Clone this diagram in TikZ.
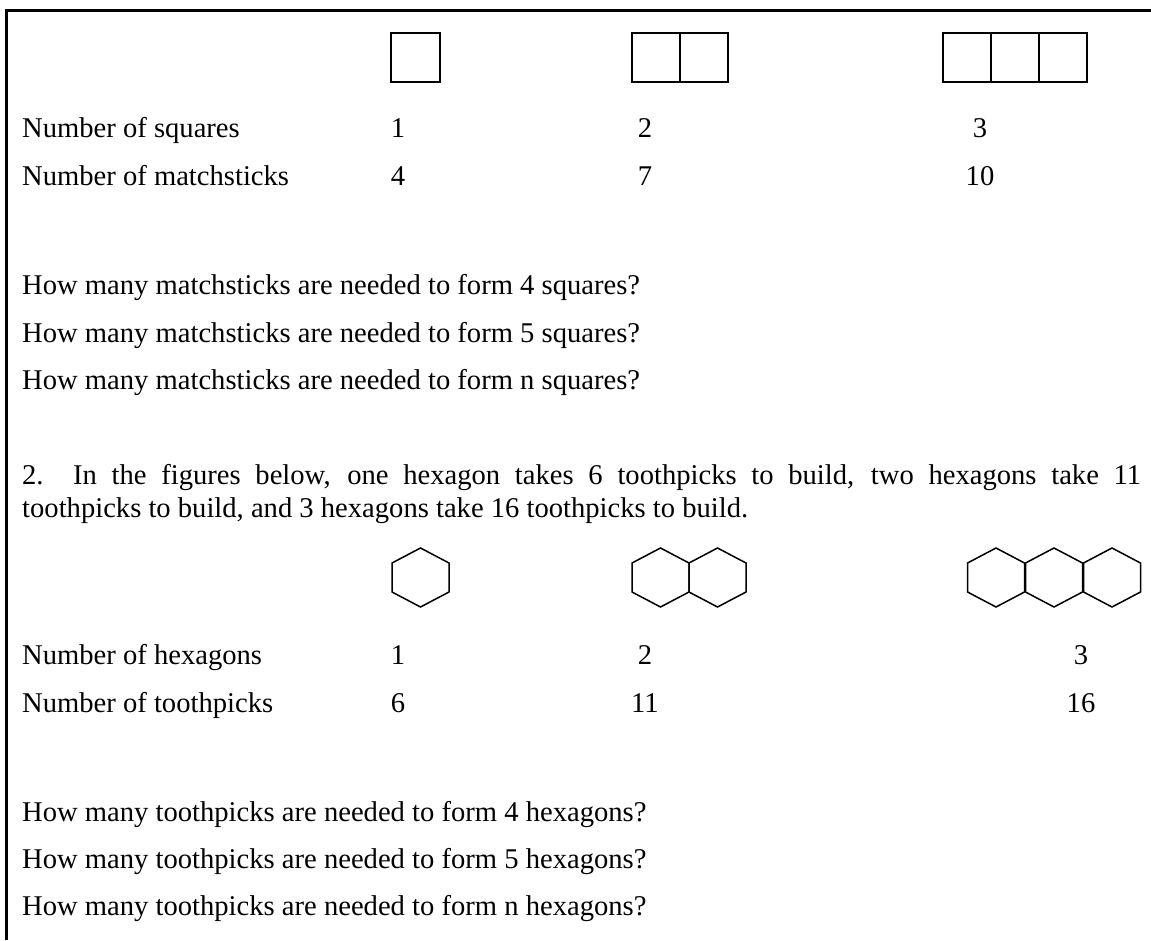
\documentclass[tikz,border=0pt]{standalone}
\usepackage{fontspec}
\setmainfont{Liberation Serif}
\usetikzlibrary{calc}

\newcommand{\hexcell}[1]{\draw[hexline] (#1-28.5,563)--(#1,548)--(#1+28.5,563)--(#1+28.5,592)--(#1,607)--(#1-28.5,592)--cycle;}

\begin{document}
\begin{tikzpicture}[x=1pt,y=-1pt,
	every node/.style={inner sep=0pt,font=\fontsize{28.6}{33}\selectfont},
	row/.style={anchor=base west},
	num/.style={anchor=base},
	stick/.style={line width=1.6pt},
	hexline/.style={line width=1.5pt,line join=miter}]
	\useasboundingbox (0,0) rectangle (1151,940);
	\draw[line width=3pt] (6.5,940)--(6.5,10.5)--(1151,10.5);
	% squares
	\draw[stick] (391,33) rectangle (440,82);
	\draw[stick] (632,33) rectangle (728,82) (680,33)--(680,82);
	\draw[stick] (943,33) rectangle (1087,82) (991,33)--(991,82) (1039,33)--(1039,82);
	\node[row] (sq) at (22,137) {Number of squares};
	\node[num] (sq1) at (398,137) {1};
	\node[num] (sq2) at (645,137) {2};
	\node[num] (sq3) at (980,137) {3};
	\node[row] (ms) at (22,185) {Number of matchsticks};
	\node[num] (ms1) at (398,185) {4};
	\node[num] (ms2) at (645,185) {7};
	\node[num] (ms3) at (980,185) {10};
	\node[row] (q1) at (22,294) {How many matchsticks are needed to form 4 squares?};
	\node[row] (q2) at (22,342) {How many matchsticks are needed to form 5 squares?};
	\node[row] (q3) at (22,389) {How many matchsticks are needed to form n squares?};
	% hexagons
	\node[row] (intro1) at (22,484) {\makebox[1119pt][s]{2.\ \ In the figures below, one hexagon takes 6 toothpicks to build, two hexagons take 11}};
	\node[row] (intro2) at (22,517) {toothpicks to build, and 3 hexagons take 16 toothpicks to build.};
	\hexcell{420.5}
	\foreach \c in {660.5,717.5} {\hexcell{\c}}
	\foreach \c in {996,1054,1112} {\hexcell{\c}}
	\node[row] (hx) at (22,664) {Number of hexagons};
	\node[num] (hx1) at (398,664) {1};
	\node[num] (hx2) at (645,664) {2};
	\node[num] (hx3) at (1081,664) {3};
	\node[row] (tp) at (22,712) {Number of toothpicks};
	\node[num] (tp1) at (398,712) {6};
	\node[num] (tp2) at (645,712) {11};
	\node[num] (tp3) at (1081,712) {16};
	\node[row] (q4) at (22,821) {How many toothpicks are needed to form 4 hexagons?};
	\node[row] (q5) at (22,868) {How many toothpicks are needed to form 5 hexagons?};
	\node[row] (q6) at (22,915) {How many toothpicks are needed to form n hexagons?};
\end{tikzpicture}
\end{document}
